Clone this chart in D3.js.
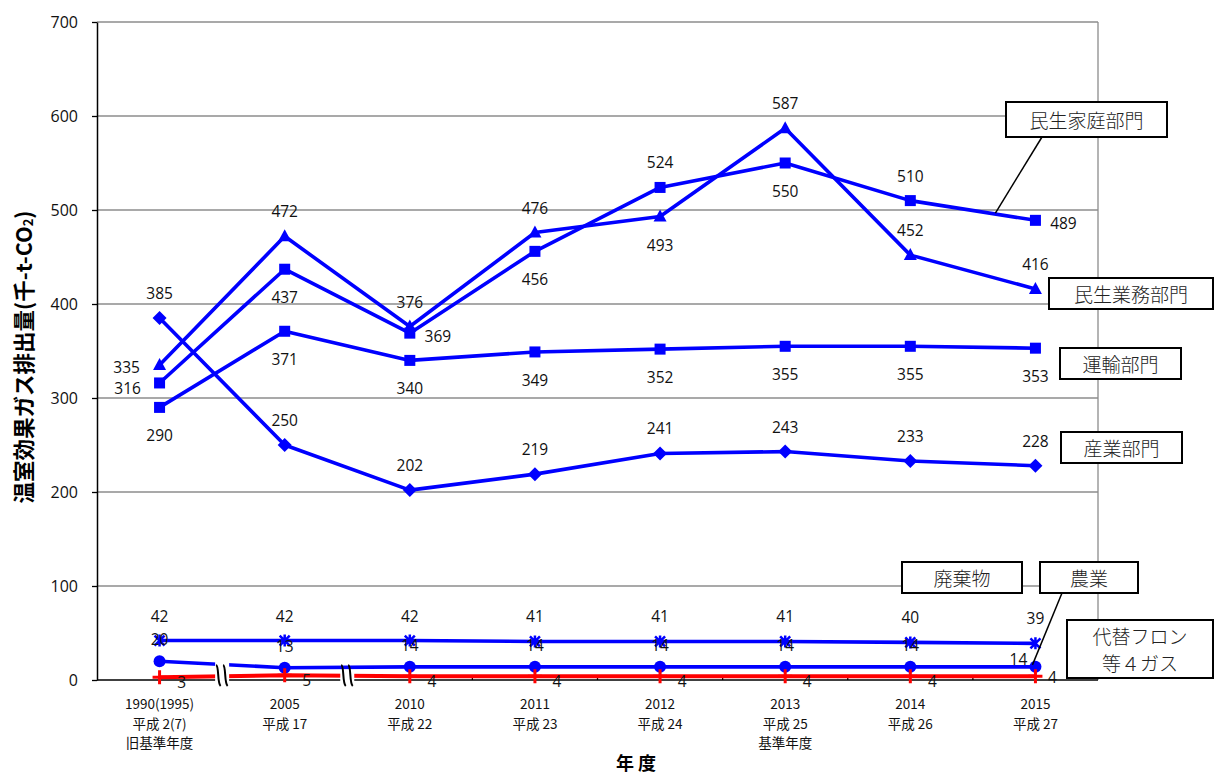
<!DOCTYPE html>
<html>
<head>
<meta charset="utf-8">
<script src="https://cdn.jsdelivr.net/npm/d3@7"></script>
<style>
  html, body { margin: 0; padding: 0; background: #fff; }
  svg { display: block; }
</style>
</head>
<body>
<svg id="chart" width="1216" height="774"></svg>
<script>
// Fiscal years and their sub-labels
const years = ["1990", "2005", "2010", "2011", "2012", "2013", "2014", "2015"];
const yearLabels = [
  ["1990(1995)", "平成 2(7)", "旧基準年度"],
  ["2005", "平成 17"],
  ["2010", "平成 22"],
  ["2011", "平成 23"],
  ["2012", "平成 24"],
  ["2013", "平成 25", "基準年度"],
  ["2014", "平成 26"],
  ["2015", "平成 27"]
];
const yTicks = [0, 100, 200, 300, 400, 500, 600, 700];

// Emissions by sector (千t-CO2)
const sangyo   = [385, 250, 202, 219, 241, 243, 233, 228]; // 産業部門
const unyu     = [290, 371, 340, 349, 352, 355, 355, 353]; // 運輸部門
const gyomu    = [335, 472, 376, 476, 493, 587, 452, 416]; // 民生業務部門
const katei    = [316, 437, 369, 456, 524, 550, 510, 489]; // 民生家庭部門
const haikibutsu = [42, 42, 42, 41, 41, 41, 40, 39];       // 廃棄物
const nogyo    = [20, 13, 14, 14, 14, 14, 14, 14];          // 農業
const freon    = [3, 5, 4, 4, 4, 4, 4, 4];                  // 代替フロン等4ガス

// Where each value label sits relative to its point
const labelPlacement = {
  sangyo:     ["a", "a", "a", "a", "a", "a", "a", "a"],
  unyu:       ["b", "b", "b", "b", "b", "b", "b", "b"],
  gyomu:      ["lu", "a", "a", "a", "b", "a", "a", "a"],
  katei:      ["ld", "b", "r", "b", "a", "b", "a", "r"],
  haikibutsu: ["a", "a", "a", "a", "a", "a", "a", "a"],
  nogyo:      ["c", "c", "c", "c", "c", "c", "c", "ul"],
  freon:      ["rr", "rr", "rr", "rr", "rr", "rr", "rr", "rr2"]
};
const offsets = {
  a: [0, -25], b: [0, 28], lu: [-33, 2], ld: [-32, 5], r: [28, 3],
  c: [0, -22], ul: [-17, -8], rr: [22, 5], rr2: [17, 1]
};

const BLUE = "#0000ff", RED = "#ff0000";

const series = [
  { key: "sangyo", values: sangyo, color: BLUE, marker: "diamond" },
  { key: "unyu", values: unyu, color: BLUE, marker: "square" },
  { key: "gyomu", values: gyomu, color: BLUE, marker: "triangle" },
  { key: "katei", values: katei, color: BLUE, marker: "square" },
  { key: "haikibutsu", values: haikibutsu, color: BLUE, marker: "star" },
  { key: "nogyo", values: nogyo, color: BLUE, marker: "circle" },
  { key: "freon", values: freon, color: RED, marker: "plus" }
];

const svg = d3.select("#chart");
const plot = { left: 97, right: 1098, top: 22, bottom: 680 };

const x = d3.scalePoint().domain(years).range([plot.left, plot.right]).padding(0.5);
const y = d3.scaleLinear().domain([0, 700]).range([plot.bottom, plot.top]);

const numFont = "'Open Sans', 'Noto Sans', sans-serif";
const jpFont = "'Noto Sans CJK JP', sans-serif";

// Gridlines
svg.append("g").selectAll("line").data(yTicks.filter(d => d > 0)).join("line")
  .attr("x1", plot.left).attr("x2", plot.right)
  .attr("y1", d => y(d)).attr("y2", d => y(d))
  .attr("stroke", "#8c8c8c").attr("stroke-width", 1.3);
// Right frame
svg.append("line")
  .attr("x1", plot.right).attr("x2", plot.right)
  .attr("y1", plot.top).attr("y2", plot.bottom)
  .attr("stroke", "#8c8c8c").attr("stroke-width", 1.3);

// Y axis
const yAxis = svg.append("g").attr("transform", `translate(${plot.left},0)`)
  .call(d3.axisLeft(y).tickValues(yTicks).tickSize(5).tickSizeOuter(0).tickPadding(14));
yAxis.select(".domain").attr("stroke", "#000").attr("stroke-width", 1.5);
yAxis.selectAll(".tick line").attr("stroke", "#000").attr("stroke-width", 1.3);
yAxis.selectAll(".tick text").attr("font-family", numFont).attr("font-size", 16).attr("fill", "#111");

// X axis baseline with ticks between categories
const step = x.step();
svg.append("line")
  .attr("x1", plot.left).attr("x2", plot.right)
  .attr("y1", plot.bottom).attr("y2", plot.bottom)
  .attr("stroke", "#000").attr("stroke-width", 1.5);
svg.append("g").selectAll("line").data(years.slice(1)).join("line")
  .attr("x1", d => x(d) - step / 2).attr("x2", d => x(d) - step / 2)
  .attr("y1", plot.bottom - 4).attr("y2", plot.bottom)
  .attr("stroke", "#000").attr("stroke-width", 1.3);

// Category labels
const xl = svg.append("g");
years.forEach((yr, i) => {
  yearLabels[i].forEach((txt, j) => {
    xl.append("text")
      .attr("x", x(yr)).attr("y", 703 + j * 19.5)
      .attr("text-anchor", "middle").attr("dominant-baseline", "central")
      .attr("font-family", jpFont).attr("font-size", 13.5).attr("fill", "#111")
      .text(txt);
  });
});

// Axis titles
svg.append("text")
  .attr("x", 636).attr("y", 762)
  .attr("text-anchor", "middle").attr("dominant-baseline", "central")
  .attr("font-family", jpFont).attr("font-weight", 700).attr("font-size", 18)
  .text("年 度");
const yt = svg.append("text")
  .attr("transform", "translate(22,357) rotate(-90)")
  .attr("text-anchor", "middle").attr("dominant-baseline", "central")
  .attr("font-family", jpFont).attr("font-weight", 700).attr("font-size", 21.5);
yt.append("tspan").text("温室効果ガス排出量(千-t-CO");
yt.append("tspan").attr("font-size", 13).attr("dy", 5).text("2");
yt.append("tspan").attr("dy", -5).text(")");

// Lines and markers
const line = d3.line().x((d, i) => x(years[i])).y(d => y(d));

function drawMarker(g, type, color) {
  if (type === "square") {
    g.append("rect").attr("x", -5.5).attr("y", -5.5).attr("width", 11).attr("height", 11).attr("fill", color);
  } else if (type === "triangle") {
    g.append("path").attr("d", "M0,-7 L6.5,5 L-6.5,5 Z").attr("fill", color);
  } else if (type === "diamond") {
    g.append("path").attr("d", "M0,-7 L7,0 L0,7 L-7,0 Z").attr("fill", color);
  } else if (type === "circle") {
    g.append("circle").attr("r", 6).attr("fill", color);
  } else if (type === "star") {
    g.append("path").attr("d", "M-5,-5 L5,5 M-5,5 L5,-5 M0,-6 L0,6")
      .attr("stroke", color).attr("stroke-width", 2.5).attr("fill", "none");
  } else if (type === "plus") {
    g.append("path").attr("d", "M-7,0 L7,0 M0,-7 L0,7")
      .attr("stroke", color).attr("stroke-width", 3).attr("fill", "none");
  }
}

const marks = svg.append("g");
series.forEach(s => {
  marks.append("path").datum(s.values)
    .attr("d", line)
    .attr("fill", "none").attr("stroke", s.color)
    .attr("stroke-width", s.color === RED ? 4 : 3.6)
    .attr("stroke-linejoin", "round");
  s.values.forEach((v, i) => {
    const g = marks.append("g").attr("transform", `translate(${x(years[i])},${y(v)})`);
    drawMarker(g, s.marker, s.color);
  });
});

// Axis break symbols on the baseline
function axisBreak(cx, top) {
  const g = svg.append("g");
  g.append("rect").attr("x", cx - 7).attr("y", top).attr("width", 14).attr("height", 687 - top).attr("fill", "#fff");
  const y0 = 665, y1 = 686;
  [-3.5, 3.5].forEach(dx => {
    const c = cx + dx;
    g.append("path")
      .attr("d", `M${c - 2.5},${y0} C${c + 0.5},${y0 + 1} ${c - 1.5},${y1 - 3} ${c + 2},${y1}`)
      .attr("fill", "none").attr("stroke", "#000").attr("stroke-width", 2);
  });
}
axisBreak(x(years[0]) + step / 2, 662);
axisBreak(x(years[1]) + step / 2, 671);

// Value labels
const labels = svg.append("g");
series.forEach(s => {
  s.values.forEach((v, i) => {
    const off = offsets[labelPlacement[s.key][i]];
    labels.append("text")
      .attr("x", x(years[i]) + off[0]).attr("y", y(v) + off[1])
      .attr("text-anchor", "middle").attr("dominant-baseline", "central")
      .attr("font-family", numFont).attr("font-size", 15.5).attr("fill", "#111")
      .text(v);
  });
});

// Sector callouts
function leader(x1, y1, x2, y2) {
  svg.append("line").attr("x1", x1).attr("y1", y1).attr("x2", x2).attr("y2", y2)
    .attr("stroke", "#000").attr("stroke-width", 1.5);
}
function callout(x0, y0, w, h, lines) {
  svg.append("rect").attr("x", x0).attr("y", y0).attr("width", w).attr("height", h)
    .attr("fill", "#fff").attr("stroke", "#000").attr("stroke-width", 2);
  lines.forEach((t, j) => {
    svg.append("text")
      .attr("x", x0 + w / 2).attr("y", y0 + h / 2 + (j - (lines.length - 1) / 2) * 27)
      .attr("text-anchor", "middle").attr("dominant-baseline", "central")
      .attr("font-family", jpFont).attr("font-weight", 300).attr("font-size", 19).attr("fill", "#222")
      .text(t);
  });
}
// 民生家庭部門 leader to a point along the 2014–2015 segment
const t = 0.68;
leader(1042, 137,
  x(years[6]) + t * (x(years[7]) - x(years[6])),
  y(katei[6]) + t * (y(katei[7]) - y(katei[6])) - 1);
leader(1062, 593, x(years[7]) - 3, y(nogyo[7]) - 2);

callout(1006, 102, 161, 35, ["民生家庭部門"]);
callout(1049, 278, 164, 31, ["民生業務部門"]);
callout(1060, 348, 121, 31, ["運輸部門"]);
callout(1061, 432, 121, 31, ["産業部門"]);
callout(902, 562, 120, 31, ["廃棄物"]);
callout(1040, 562, 98, 31, ["農業"]);
callout(1067, 620, 146, 58, ["代替フロン", "等４ガス"]);
</script>
</body>
</html>
